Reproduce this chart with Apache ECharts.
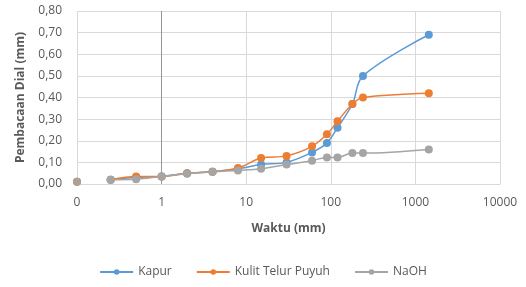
<!DOCTYPE html>
<html>
<head>
<meta charset="utf-8">
<script src="https://cdn.jsdelivr.net/npm/echarts@6/dist/echarts.min.js"></script>
<style>html,body{margin:0;padding:0;background:#fff}#c{width:526px;height:287px}</style>
</head>
<body>
<div id="c"></div>
<script>
var times = [0, 0.25, 0.5, 1, 2, 4, 8, 15, 30, 60, 90, 120, 180, 240, 1440];
var kapur = [0.01, 0.02, 0.03, 0.035, 0.05, 0.057, 0.07, 0.09, 0.10, 0.146, 0.19, 0.26, 0.37, 0.50, 0.69];
var kulit = [0.01, 0.02, 0.035, 0.035, 0.05, 0.057, 0.074, 0.12, 0.13, 0.174, 0.23, 0.29, 0.37, 0.40, 0.42];
var naoh = [0.01, 0.02, 0.022, 0.035, 0.047, 0.057, 0.063, 0.07, 0.09, 0.108, 0.123, 0.123, 0.143, 0.143, 0.16];
var names = ['Kapur', 'Kulit Telur Puyuh', 'NaOH'];
var colors = ['#5b9bd5', '#ed7d31', '#a5a5a5'];
var ZERO_POS = 0.1; // where time 0 is drawn on the log axis (labelled "0")

function pos(t) { return t === 0 ? ZERO_POS : t; }
function lineData(vals) {
  var d = [];
  for (var i = 0; i < times.length; i++) if (times[i] !== 0) d.push([pos(times[i]), vals[i]]);
  return d;
}
function zeroData(vals) {
  var d = [];
  for (var i = 0; i < times.length; i++) if (times[i] === 0) d.push([pos(times[i]), vals[i]]);
  return d;
}
var allVals = [kapur, kulit, naoh];
var series = [];
allVals.forEach(function (v, i) {
  series.push({
    name: names[i], type: 'line', data: lineData(v), smooth: 0.35,
    symbol: 'circle', symbolSize: 8, color: colors[i],
    lineStyle: { width: 1.5, color: colors[i] },
    itemStyle: { color: colors[i] }, z: 3 + i
  });
});
allVals.forEach(function (v, i) {
  series.push({
    name: names[i] + '_0', type: 'scatter', data: zeroData(v),
    symbol: 'circle', symbolSize: 8, itemStyle: { color: colors[i] }, z: 3 + i
  });
});
series[0].markLine = {
  silent: true, symbol: 'none', label: { show: false },
  lineStyle: { color: '#969696', width: 1, type: 'solid' },
  data: [{ xAxis: 1 }]
};

var chart = echarts.init(document.getElementById('c'));
chart.setOption({
  animation: false,
  textStyle: { fontFamily: 'Open Sans' },
  grid: { left: 77, right: 26, top: 11, bottom: 103 },
  xAxis: {
    type: 'log', logBase: 10, min: 0.1, max: 10000,
    name: 'Waktu (mm)', nameLocation: 'middle', nameGap: 39,
    nameTextStyle: { color: '#595959', fontWeight: 'bold', fontSize: 12 },
    axisLine: { show: true, lineStyle: { color: '#d9d9d9' } },
    axisTick: { show: false },
    axisLabel: {
      color: '#595959', fontSize: 12, margin: 13,
      formatter: function (v) { return v <= 0.1001 ? '0' : String(Math.round(v)); }
    },
    splitLine: { show: true, lineStyle: { color: '#d9d9d9' } }
  },
  yAxis: {
    type: 'value', min: 0, max: 0.8, interval: 0.1,
    name: 'Pembacaan Dial (mm)', nameLocation: 'middle', nameGap: 50,
    nameTextStyle: { color: '#595959', fontWeight: 'bold', fontSize: 12 },
    axisLine: { show: false }, axisTick: { show: false },
    axisLabel: {
      color: '#595959', fontSize: 12, margin: 15,
      formatter: function (v) { return v.toFixed(2).replace('.', ','); }
    },
    splitLine: { show: true, lineStyle: { color: '#d9d9d9' } }
  },
  legend: {
    data: names, bottom: 4, left: 'center',
    itemWidth: 33, itemHeight: 7, itemGap: 24,
    textStyle: { color: '#595959', fontSize: 12 }
  },
  series: series
});
</script>
</body>
</html>
